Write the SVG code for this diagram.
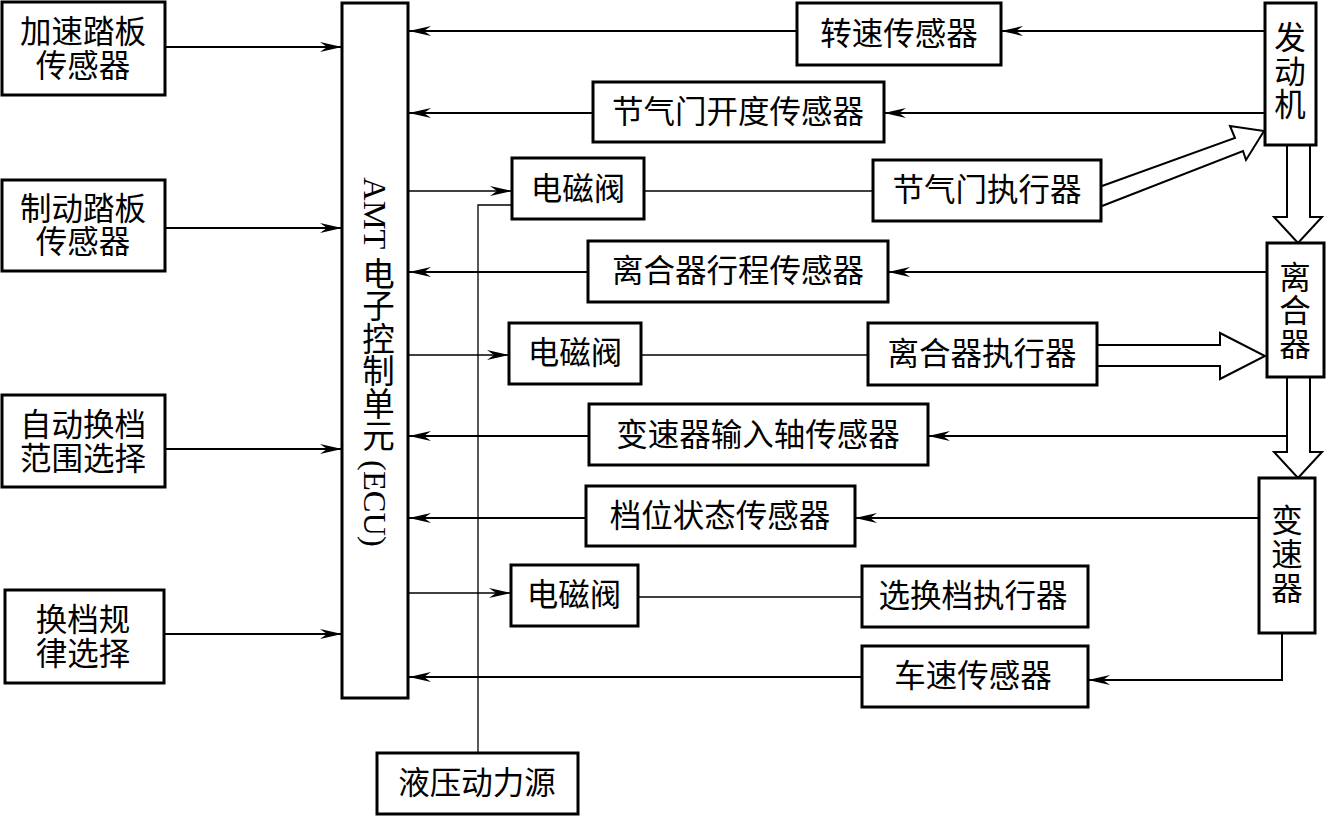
<svg xmlns="http://www.w3.org/2000/svg" width="1326" height="816" viewBox="0 0 1326 816">
<style>
.box{fill:#fff;stroke:#000;stroke-width:3}
.t{font-family:"Liberation Serif","Noto Sans CJK SC",serif;font-size:31.5px;fill:#000;text-anchor:middle;dominant-baseline:central}
.ln{fill:none;stroke:#000;stroke-width:2}
.th{fill:none;stroke:#000;stroke-width:1.3}
.ha{fill:#fff;stroke:#000;stroke-width:2;stroke-linejoin:miter}
</style>
<defs>
<marker id="ah" markerUnits="userSpaceOnUse" markerWidth="26" markerHeight="12" viewBox="-24 -6 26 12" refX="0" refY="0" orient="auto">
<path d="M0,0 L-22,-5 L-15,0 L-22,5 z" fill="#000"/>
</marker>
</defs>
<g id="connectors">
<line class="ln" x1="165" y1="47" x2="342" y2="47" marker-end="url(#ah)"/>
<line class="ln" x1="165" y1="228" x2="342" y2="228" marker-end="url(#ah)"/>
<line class="ln" x1="165" y1="449" x2="342" y2="449" marker-end="url(#ah)"/>
<line class="ln" x1="164" y1="634" x2="342" y2="634" marker-end="url(#ah)"/>
<line class="ln" x1="1265" y1="31" x2="1001" y2="31" marker-end="url(#ah)"/>
<line class="ln" x1="797" y1="31" x2="409" y2="31" marker-end="url(#ah)"/>
<line class="ln" x1="1265" y1="113" x2="884" y2="113" marker-end="url(#ah)"/>
<line class="ln" x1="593" y1="113" x2="409" y2="113" marker-end="url(#ah)"/>
<line class="th" x1="408" y1="191" x2="512" y2="191" marker-end="url(#ah)"/>
<line class="th" x1="644" y1="191" x2="873" y2="191"/>
<line class="ln" x1="1267" y1="272" x2="888" y2="272" marker-end="url(#ah)"/>
<line class="ln" x1="588" y1="272" x2="409" y2="272" marker-end="url(#ah)"/>
<line class="th" x1="408" y1="355" x2="509" y2="355" marker-end="url(#ah)"/>
<line class="th" x1="641" y1="355" x2="868" y2="355"/>
<line class="ln" x1="1287" y1="436" x2="928" y2="436" marker-end="url(#ah)"/>
<line class="ln" x1="589" y1="436" x2="409" y2="436" marker-end="url(#ah)"/>
<line class="ln" x1="1259" y1="518" x2="855" y2="518" marker-end="url(#ah)"/>
<line class="ln" x1="586" y1="518" x2="409" y2="518" marker-end="url(#ah)"/>
<line class="th" x1="408" y1="593" x2="511" y2="593" marker-end="url(#ah)"/>
<line class="th" x1="638" y1="597" x2="862" y2="597"/>
<path class="ln" d="M1282,633 V680 H1088" marker-end="url(#ah)"/>
<line class="ln" x1="862" y1="677" x2="409" y2="677" marker-end="url(#ah)"/>
<path class="th" d="M512,205 H478 V753"/>
<path class="ha" d="M1102,186 L1235,138 L1230,126 L1264,131 L1246,160 L1243,151 L1102,206"/>
<path class="ha" d="M1287,145 V217 H1274 L1298,243 L1322,217 H1310 V145"/>
<path class="ha" d="M1097,345 H1220 V333 L1265,356 L1220,379 V366 H1097"/>
<path class="ha" d="M1287,377 V452 H1274 L1298,478 L1322,452 H1310 V377"/>
</g>
<g id="n-accel"><rect class="box" x="2" y="2" width="163" height="93"/><text class="t" x="83" y="32">加速踏板</text><text class="t" x="83" y="66">传感器</text></g>
<g id="n-brake"><rect class="box" x="2" y="180" width="163" height="91"/><text class="t" x="83" y="209">制动踏板</text><text class="t" x="83" y="242">传感器</text></g>
<g id="n-range"><rect class="box" x="2" y="395" width="163" height="92"/><text class="t" x="83" y="425">自动换档</text><text class="t" x="83" y="459">范围选择</text></g>
<g id="n-rule"><rect class="box" x="5" y="590" width="159" height="93"/><text class="t" x="83" y="620">换档规</text><text class="t" x="83" y="654">律选择</text></g>
<g id="n-ecu"><rect class="box" x="342" y="3" width="66" height="695"/><text class="t" x="375" y="362" style="writing-mode:vertical-rl;text-orientation:mixed;font-size:32.5px">AMT 电子控制单元 (ECU)</text></g>
<g id="n-speed"><rect class="box" x="797" y="3" width="204" height="62"/><text class="t" x="899" y="34">转速传感器</text></g>
<g id="n-throttle-sensor"><rect class="box" x="593" y="82" width="291" height="60"/><text class="t" x="738" y="112">节气门开度传感器</text></g>
<g id="n-valve1"><rect class="box" x="512" y="158" width="132" height="61"/><text class="t" x="578" y="189">电磁阀</text></g>
<g id="n-throttle-act"><rect class="box" x="873" y="160" width="228" height="61"/><text class="t" x="987" y="190">节气门执行器</text></g>
<g id="n-clutch-sensor"><rect class="box" x="588" y="241" width="300" height="61"/><text class="t" x="738" y="271">离合器行程传感器</text></g>
<g id="n-valve2"><rect class="box" x="509" y="323" width="132" height="61"/><text class="t" x="575" y="353">电磁阀</text></g>
<g id="n-clutch-act"><rect class="box" x="868" y="323" width="229" height="62"/><text class="t" x="982" y="354">离合器执行器</text></g>
<g id="n-input-sensor"><rect class="box" x="589" y="404" width="339" height="61"/><text class="t" x="758" y="435">变速器输入轴传感器</text></g>
<g id="n-gear-sensor"><rect class="box" x="586" y="486" width="269" height="60"/><text class="t" x="720" y="516">档位状态传感器</text></g>
<g id="n-valve3"><rect class="box" x="511" y="565" width="127" height="61"/><text class="t" x="574" y="595">电磁阀</text></g>
<g id="n-shift-act"><rect class="box" x="862" y="566" width="226" height="61"/><text class="t" x="973" y="596">选换档执行器</text></g>
<g id="n-vspeed"><rect class="box" x="862" y="646" width="226" height="61"/><text class="t" x="973" y="676">车速传感器</text></g>
<g id="n-hydraulic"><rect class="box" x="377" y="753" width="201" height="61"/><text class="t" x="477" y="783">液压动力源</text></g>
<g id="n-engine"><rect class="box" x="1265" y="3" width="51" height="142"/><text class="t" x="1290" y="38">发</text><text class="t" x="1290" y="72">动</text><text class="t" x="1290" y="105">机</text></g>
<g id="n-clutch"><rect class="box" x="1267" y="243" width="57" height="134"/><text class="t" x="1295" y="278">离</text><text class="t" x="1295" y="311">合</text><text class="t" x="1295" y="345">器</text></g>
<g id="n-gearbox"><rect class="box" x="1259" y="478" width="56" height="155"/><text class="t" x="1287" y="521">变</text><text class="t" x="1287" y="555">速</text><text class="t" x="1287" y="589">器</text></g>
</svg>
